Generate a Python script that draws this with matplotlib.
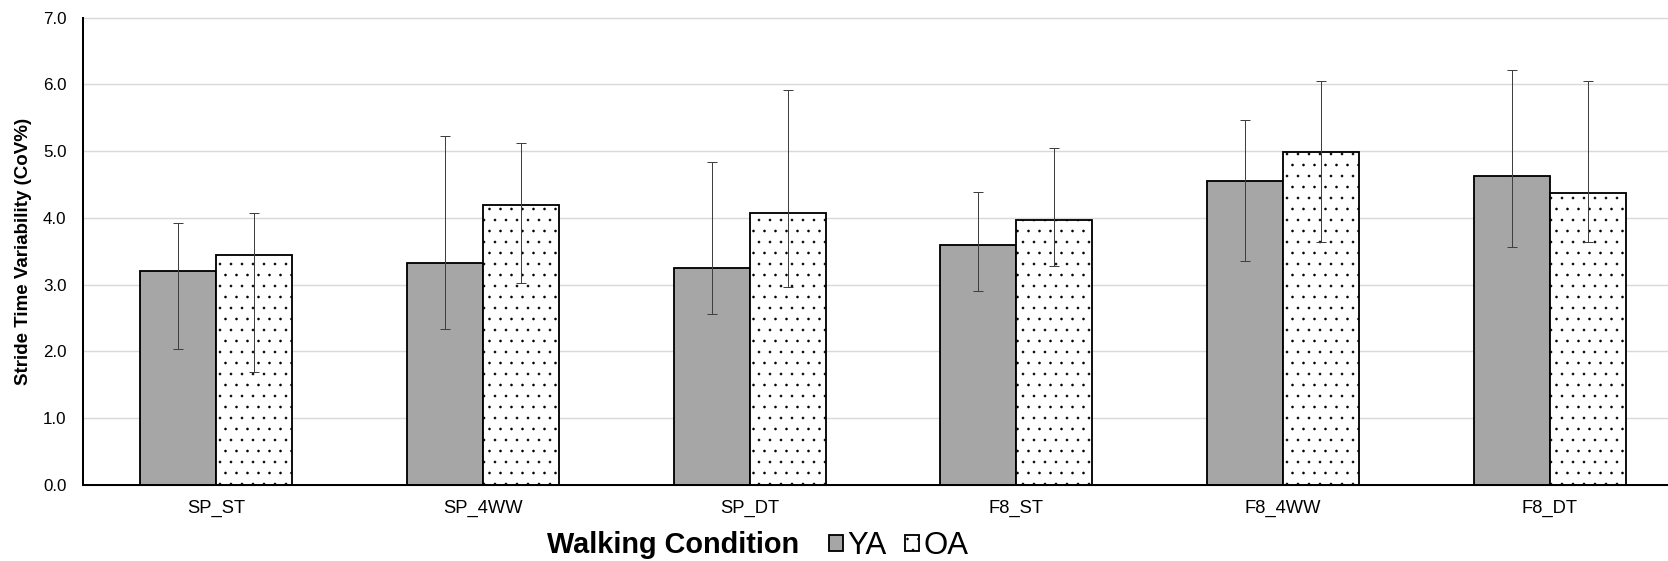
import numpy as np
import matplotlib
matplotlib.use("Agg")
import matplotlib.pyplot as plt

# Values
conditions = ["SP_ST", "SP_4WW", "SP_DT", "F8_ST", "F8_4WW", "F8_DT"]
ya_mean = [3.21, 3.32, 3.25, 3.60, 4.55, 4.62]
ya_low = [2.04, 2.33, 2.56, 2.90, 3.35, 3.57]
ya_high = [3.93, 5.23, 4.83, 4.39, 5.47, 6.21]
oa_mean = [3.45, 4.19, 4.07, 3.97, 4.98, 4.37]
oa_low = [1.69, 3.02, 2.97, 3.28, 3.64, 3.64]
oa_high = [4.07, 5.12, 5.91, 5.05, 6.05, 6.05]
yticks = [0, 1, 2, 3, 4, 5, 6, 7]

# hatch cell size follows dpi, so a lower dpi gives a denser dot pattern
DPI = 66
plt.rcParams["font.family"] = ["Liberation Sans", "DejaVu Sans"]
plt.rcParams["hatch.linewidth"] = 0.4

fig = plt.figure(figsize=(1668 / DPI, 561 / DPI), dpi=DPI)
ax = fig.add_axes([0.0498, 0.1355, 0.9592, 0.8333])

x = np.arange(len(conditions))
w = 0.285

ya_err = [np.array(ya_mean) - np.array(ya_low), np.array(ya_high) - np.array(ya_mean)]
oa_err = [np.array(oa_mean) - np.array(oa_low), np.array(oa_high) - np.array(oa_mean)]

ax.bar(x - w / 2, ya_mean, w, color="#a6a6a6", edgecolor="black", linewidth=2.0,
       label="YA", zorder=2)
ax.bar(x + w / 2, oa_mean, w, color="white", edgecolor="black", linewidth=2.0,
       hatch=".", label="OA", zorder=2)

err_style = dict(fmt="none", ecolor="#404040", elinewidth=1.1, capsize=5.8,
                 capthick=1.1, zorder=3)
ax.errorbar(x - w / 2, ya_mean, yerr=ya_err, **err_style)
ax.errorbar(x + w / 2, oa_mean, yerr=oa_err, **err_style)

ax.set_xlim(-0.5, len(conditions) - 0.5)
ax.set_ylim(0, 7)
ax.set_yticks(yticks)
ax.set_yticklabels([f"{v:.1f}" for v in yticks])
ax.set_xticks(x)
ax.set_xticklabels(conditions)
ax.tick_params(axis="y", length=0, pad=18, labelsize=18.5)
ax.tick_params(axis="x", length=0, pad=16, labelsize=20)

ax.yaxis.grid(True, color="#d9d9d9", linewidth=1.6)
ax.set_axisbelow(True)
for line in ax.get_ygridlines():
    line.set_clip_on(False)

for side in ["top", "right"]:
    ax.spines[side].set_visible(False)
for side in ["left", "bottom"]:
    ax.spines[side].set_linewidth(2.2)
    ax.spines[side].set_color("black")

ax.set_ylabel("Stride Time Variability (CoV%)", fontsize=20.5, fontweight="bold",
              labelpad=12)

# x label with the legend placed inline next to it
fig.text(547 / 1668, 1 - 553 / 561, "Walking Condition", fontsize=31.5,
         fontweight="bold", ha="left", va="baseline")
fig.legend(loc="center left", bbox_to_anchor=(829 / 1668, 1 - 546 / 561),
           ncol=2, frameon=False, fontsize=34, handlelength=0.44,
           handleheight=0.44, handletextpad=0.15, columnspacing=0.6,
           borderpad=0, borderaxespad=0)

fig.savefig("out.png", dpi=DPI)
